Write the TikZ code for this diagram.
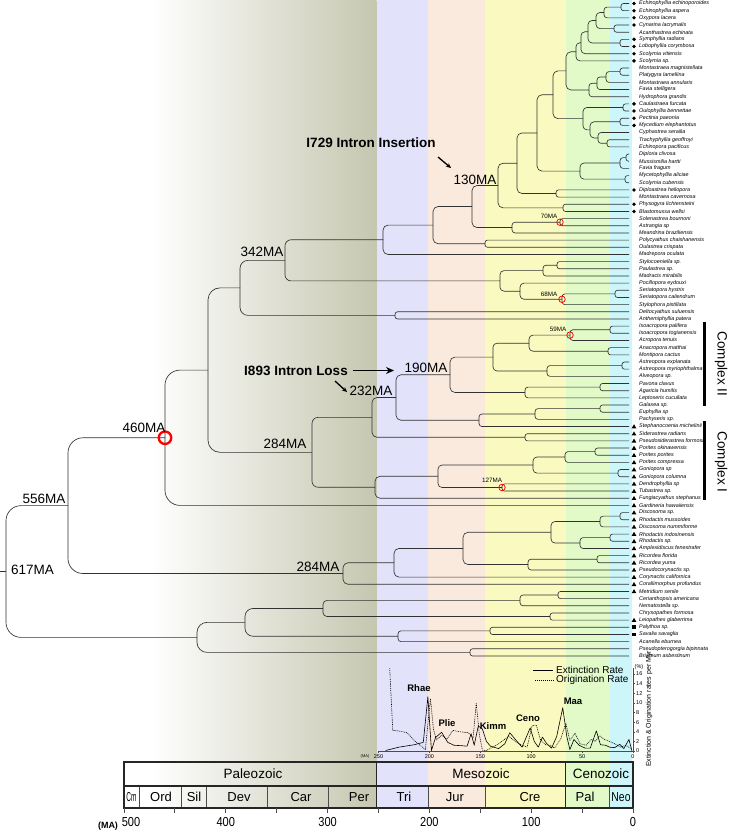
\documentclass[tikz,border=0pt]{standalone}
\usepackage{fontspec}
\setmainfont{Liberation Sans}
\usetikzlibrary{calc,shapes.geometric,arrows.meta}
\definecolor{olivec}{RGB}{198,199,176}
\definecolor{tric}{RGB}{226,226,250}
\definecolor{jurc}{RGB}{250,234,222}
\definecolor{crec}{RGB}{250,250,192}
\definecolor{palc}{RGB}{226,250,200}
\definecolor{neoc}{RGB}{204,246,250}
\definecolor{brc}{RGB}{50,50,50}
\newcommand\mknode[5]{%
  \path let \p1=(#3), \p2=(#4), \p3=(#2,0) in (\x3,{0.5*(\y1+\y2)}) coordinate (#1);%
  \draw[br, rounded corners=#5pt] (#1) |- (#3);%
  \draw[br, rounded corners=#5pt] (#1) |- (#4);%
}
\begin{document}
\begin{tikzpicture}[x=1pt, y=-1pt,
  br/.style={draw=brc, line width=0.65pt},
  taxon/.style={anchor=west, font=\fontsize{5.4}{6}\selectfont\itshape, inner sep=0pt},
  lab/.style={font=\fontsize{13.5}{14}\selectfont, inner sep=0pt},
  slab/.style={font=\fontsize{6.3}{7}\selectfont, inner sep=0pt},
  bl/.style={font=\fontsize{13.5}{14}\selectfont\bfseries, inner sep=0pt},
  mk/.style={circle, draw=red, line width=0.75pt, inner sep=0pt, minimum size=6.5pt},
  symc/.style={circle, fill=black, inner sep=0pt, minimum size=3.8pt},
  symt/.style={regular polygon, regular polygon sides=3, fill=black, inner sep=0pt, minimum size=5.4pt},
  syms/.style={rectangle, fill=black, inner sep=0pt, minimum size=3.6pt},
  era/.style={font=\fontsize{13.5}{14}\selectfont, inner sep=0pt},
  perl/.style={font=\fontsize{13}{14}\selectfont, inner sep=0pt},
  axl/.style={font=\fontsize{13}{14}\selectfont, inner sep=0pt, xscale=0.85},
  cax/.style={font=\fontsize{5.5}{6}\selectfont, inner sep=0pt},
  chl/.style={font=\fontsize{9.5}{10}\selectfont\bfseries, inner sep=0pt},
  legt/.style={font=\fontsize{10}{11}\selectfont, inner sep=0pt, anchor=west},
  boxl/.style={draw=black!85, line width=1.3pt},
  thinl/.style={draw=black!70, line width=0.6pt},
  arr/.style={line width=1.4pt, -{Stealth[length=8pt,width=7pt]}},
  sarr/.style={line width=1.3pt, -{Stealth[length=5pt,width=4.5pt]}}]
\useasboundingbox (0,0) rectangle (733,835);
% ---------- background bands ----------
\fill[white] (0,0) rectangle (733,835);
\shade[left color=white, right color=olivec] (150,0) rectangle (376.6,808);
\fill[tric] (376.6,0) rectangle (428.1,808);
\fill[jurc] (428.1,0) rectangle (485.4,808);
\fill[crec] (485.4,0) rectangle (565.8,808);
\fill[palc] (565.8,0) rectangle (609.6,808);
\fill[neoc] (609.6,0) rectangle (632,808);
% ---------- tips ----------
\foreach \i in {0,...,91} { \coordinate (t\i) at (629,{3.5+7.17*\i}); }
% ---------- robust clade ----------
\mknode{c01}{621}{t0}{t1}{2.5}
\mknode{n2}{604}{c01}{t2}{3}
\mknode{c34}{614}{t3}{t4}{2.5}
\mknode{n593}{596}{n2}{c34}{4}
\mknode{c56}{620}{t5}{t6}{2.5}
\mknode{n585}{588}{n593}{c56}{4}
\mknode{n577}{581}{n585}{t7}{4}
\mknode{nLob}{576}{n577}{t8}{4}
\mknode{c910}{620}{t9}{t10}{2.5}
\mknode{n11}{606}{c910}{t11}{3}
\mknode{n12}{597}{n11}{t12}{3}
\mknode{n13}{589}{n12}{t13}{3}
\mknode{n573}{566}{nLob}{n13}{5}
\mknode{c1415}{623}{t14}{t15}{2.5}
\mknode{c1617}{620}{t16}{t17}{2.5}
\mknode{c1920}{607}{t19}{t20}{2.5}
\mknode{n18}{598}{t18}{c1920}{3}
\mknode{n16}{590}{c1617}{n18}{4}
\mknode{n583}{583}{c1415}{n16}{4}
\mknode{n553}{553}{n573}{n583}{5}
\mknode{c2122}{626}{t21}{t22}{2.5}
\mknode{D3}{620}{c2122}{t23}{3}
\mknode{c2425}{625}{t24}{t25}{2.5}
\mknode{Atl}{580}{D3}{c2425}{4}
\mknode{n537}{537}{n553}{Atl}{5}
\mknode{c2627}{556}{t26}{t27}{2.5}
\mknode{n517}{517}{n537}{c2627}{5}
\mknode{c2829}{563}{t28}{t29}{2.5}
\mknode{n130}{498}{n517}{c2829}{5}
\mknode{c3031}{560}{t30}{t31}{2.5}
\mknode{n512}{512}{c3031}{t32}{3}
\mknode{n472}{472}{n130}{n512}{5}
\mknode{c3334}{485}{t33}{t34}{2.5}
\mknode{n433}{433}{n472}{c3334}{5}
\mknode{R}{383}{n433}{t35}{5}
\mknode{c3637}{557}{t36}{t37}{2.5}
\mknode{n543}{543}{c3637}{t38}{3}
\mknode{c4041}{615}{t40}{t41}{2.5}
\mknode{n68}{562}{c4041}{t42}{3}
\mknode{n520p}{520}{t39}{n68}{4}
\mknode{Poc}{500}{n543}{n520p}{4}
\mknode{Z}{285}{R}{Poc}{6}
\mknode{DA}{395}{t43}{t44}{2.5}
\mknode{W}{240}{Z}{DA}{8}
% ---------- complex clade ----------
\mknode{c4546}{610}{t45}{t46}{2.5}
\mknode{n59}{570}{c4546}{t47}{3}
\mknode{c4849}{608}{t48}{t49}{2.5}
\mknode{M1}{529}{n59}{c4849}{4}
\mknode{c5051}{622}{t50}{t51}{2.5}
\mknode{n547}{547}{c5051}{t52}{3}
\mknode{n493}{493}{M1}{n547}{4}
\mknode{c5354}{600}{t53}{t54}{2.5}
\mknode{Ag}{525}{c5354}{t55}{3}
\mknode{U}{450}{n493}{Ag}{5}
\mknode{c5657}{600}{t56}{t57}{2.5}
\mknode{L1}{535}{c5657}{t58}{3}
\mknode{L}{479}{L1}{t59}{3}
\mknode{C190}{396}{U}{L}{5}
\mknode{c6061}{525}{t60}{t61}{2.5}
\mknode{C232}{372}{C190}{c6061}{5}
\mknode{c6263}{595}{t62}{t63}{2.5}
\mknode{A}{565}{c6263}{t64}{3}
\mknode{G}{618}{t65}{t66}{2.5}
\mknode{P2}{533}{A}{G}{4}
\mknode{N127}{502}{t67}{t68}{2.5}
\mknode{P1}{438}{P2}{N127}{4}
\mknode{CI}{375}{P1}{t69}{5}
\mknode{H284}{312}{C232}{CI}{6}
\mknode{N208}{208}{W}{H284}{12}
\mknode{N460}{165}{N208}{t70}{15}
% ---------- corallimorpharians ----------
\mknode{c7172}{620}{t71}{t72}{2.5}
\mknode{na}{600}{c7172}{t73}{3}
\mknode{c7475}{610}{t74}{t75}{2.5}
\mknode{nb}{580}{c7475}{t76}{3}
\mknode{n551}{551}{na}{nb}{4}
\mknode{c7778}{597}{t77}{t78}{2.5}
\mknode{n528}{528}{c7778}{t79}{3}
\mknode{n463}{463}{n551}{n528}{5}
\mknode{n394}{394}{n463}{t80}{5}
\mknode{L284}{343}{n394}{t81}{5}
\mknode{N556}{68}{N460}{L284}{15}
% ---------- basal groups ----------
\mknode{c8283}{558}{t82}{t83}{2.5}
\mknode{n520b}{520}{c8283}{t84}{3}
\mknode{c8586}{550}{t85}{t86}{2.5}
\mknode{n323}{323}{n520b}{c8586}{4}
\mknode{c8788}{490}{t87}{t88}{2.5}
\mknode{n398}{398}{c8788}{t89}{3}
\mknode{n245}{245}{n323}{n398}{8}
\mknode{c9091}{470}{t90}{t91}{2.5}
\mknode{B}{197}{n245}{c9091}{10}
\mknode{root}{6}{N556}{B}{15}
\path (root) ++(-6,0) coordinate (rootstem);
\draw[br] (rootstem) -- (root);
% ---------- markers ----------
\node[mk] (m70) at (c3031) {};
\node[mk] (m68) at (n68) {};
\node[mk] (m59) at (n59) {};
\node[mk] (m127) at (N127) {};
\node[circle, draw=red, line width=2.3pt, minimum size=12.5pt, inner sep=0pt] (m460) at (N460) {};
% ---------- node age labels ----------
\node[lab] (l617) at (32.5,570) {617MA};
\node[lab] (l556) at (44,498.5) {556MA};
\node[lab] (l460) at (144,428) {460MA};
\node[lab] (l342) at (262,252) {342MA};
\node[lab] (l284a) at (285,444) {284MA};
\node[lab] (l232) at (371,391) {232MA};
\node[lab] (l190) at (426,368) {190MA};
\node[lab] (l130) at (475,180) {130MA};
\node[lab] (l284b) at (318,567) {284MA};
\node[slab] (l70) at (549,216) {70MA};
\node[slab] (l68) at (549,294) {68MA};
\node[slab] (l59) at (558,329) {59MA};
\node[slab] (l127) at (492,480) {127MA};
% ---------- intron annotations ----------
\node[bl] (i729) at (371,143) {I729 Intron Insertion};
\coordinate (a729s) at (438,157);
\coordinate (a729e) at (451,168);
\draw[sarr] (a729s) -- (a729e);
\node[bl] (i893) at (296,370.5) {I893 Intron Loss};
\coordinate (a893s) at (353,370.5);
\coordinate (a893e) at (394,370.5);
\draw[arr] (a893s) -- (a893e);
\coordinate (a232s) at (335,381);
\coordinate (a232e) at (347,392);
\draw[sarr] (a232s) -- (a232e);
% ---------- taxa ----------
\foreach \i/\nm in {0/Echinophyllia echinoporoides,1/Echinophyllia aspera,2/Oxypora lacera,3/Cynarina lacrymalis,4/Acanthastrea echinata,5/Symphyllia radians,6/Lobophyllia corymbosa,7/Scolymia vitiensis,8/Scolymia sp.,9/Montastraea magnistellata,10/Platygyra lamellina,11/Montastraea annularis,12/Favia stelligera,13/Hydrophora grandis,14/Caulastraea furcata,15/Oulophyllia bennettae,16/Pectinia paeonia,17/Mycedium elephantotus,18/Cyphastrea serailia,19/Trachyphyllia geoffroyi,20/Echinopora pacificus,21/Diploria clivosa,22/Mussismilia hartti,23/Favia fragum,24/Mycetophyllia aliciae,25/Scolymia cubensis,26/Diploastrea heliopora,27/Montastraea cavernosa,28/Physogyra lichtensteini,29/Blastomussa wellsi,30/Solenastrea bournoni,31/Astrangia sp,32/Meandrina braziliensis,33/Polycyathus chaishanensis,34/Oulastrea crispata,35/Madrepora oculata,36/Stylocoeniella sp.,37/Paulastrea sp.,38/Madracis mirabilis,39/Pocillopora eydouxi,40/Seriatopora hystrix,41/Seriatopora caliendrum,42/Stylophora pistillata,43/Deltocyathus suluensis,44/Anthemiphyllia patera,45/Isoacropora palifera,46/Isoacropora togianensis,47/Acropora tenuis,48/Anacropora matthai,49/Montipora cactus,50/Astreopora explanata,51/Astreopora myriophthalma,52/Alveopora sp.,53/Pavona clavus,54/Agaricia humilis,55/Leptoseris cucullata,56/Galaxea sp.,57/Euphyllia sp,58/Pachyseris sp.,59/Stephanocoenia michelinii,60/Siderastrea radians,61/Pseudosiderastrea formosa,62/Porites okinawensis,63/Porites porites,64/Porites compressa,65/Goniopora sp,66/Goniopora columna,67/Dendrophyllia sp,68/Tubastrea sp.,69/Fungiacyathus stephanus,70/Gardineria hawaiiensis,71/Discosoma sp.,72/Rhodactis mussoides,73/Discosoma nummiforme,74/Rhodactis indosinensis,75/Rhodactis sp.,76/Amplexidiscus fenestrafer,77/Ricordea florida,78/Ricordea yuma,79/Pseudocorynactis sp.,80/Corynactis californica,81/Corallimorphus profundus,82/Metridium senile,83/Cerianthopsis americana,84/Nematostella sp.,85/Chrysopathes formosa,86/Leiopathes glaberrima,87/Palythoa sp.,88/Savalia savaglia,89/Acanella eburnea,90/Pseudopterogorgia bipinnata,91/Briareum asbestinum}
  { \node[taxon] (tx\i) at (639,{3.5+7.17*\i}) {\nm}; }
\foreach \i in {0,1,2,3,5,6,7,8,14,15,16,17,26,28,29}
  { \node[symc] (sy\i) at (634,{3.5+7.17*\i}) {}; }
\foreach \i in {59,...,82,86}
  { \node[symt] (sy\i) at (634,{3.5+7.17*\i+0.4}) {}; }
\foreach \i in {87,88}
  { \node[syms] (sy\i) at (634,{3.5+7.17*\i}) {}; }
% ---------- complex bars ----------
\coordinate (b2t) at (704,322); \coordinate (b2b) at (704,406);
\coordinate (b1t) at (704,421); \coordinate (b1b) at (704,500);
\draw[line width=3pt] (b2t) -- (b2b);
\draw[line width=3pt] (b1t) -- (b1b);
\node[lab, rotate=-90] (cx2) at (721,364) {Complex II};
\node[lab, rotate=-90] (cx1) at (721,462) {Complex I};
% ---------- rate chart ----------
\draw[thinl, line width=0.5pt] (378.5,751) -- (633,751);
\draw[thinl, line width=0.5pt] (633,668) -- (633,751);
\foreach \t in {250,200,...,0} {
  \draw[thinl, line width=0.5pt] ({633-1.018*\t},751) -- ++(0,1.8);
  \node[cax] (cx\t) at ({633-1.018*\t},757) {\t};
}
\node[font=\fontsize{4}{5}\selectfont, inner sep=0pt] (cma) at (365,756.5) {(MA)};
\foreach \p in {0,2,...,16} {
  \draw[thinl, line width=0.5pt] (633,{751-4.81*\p}) -- ++(2,0);
  \node[cax, anchor=west] (cy\p) at (636,{751-4.81*\p}) {\p};
}
\node[cax] (cpct) at (639,667) {(\%)};
\node[font=\fontsize{7}{8}\selectfont, inner sep=0pt, rotate=90] (cyl) at (649,709) {Extinction \& Origination rates per Myr};
\begin{scope}[shift={(633,751)}, x=-1.018pt, y=4.81pt]
\draw[line width=0.6pt, line join=round] plot coordinates {(243,0.1) (230,0.8) (215,1.3) (206,1.8) (201.5,11.3) (198,0.1) (194,2.8) (188,3.9) (182,1.8) (176,1.2) (168,1.1) (163,1.0) (159,3.6) (156,1.2) (152,5.2) (148,4.6) (144,2.0) (140,1.0) (132,0.5) (126,1.5) (121,3.8) (116,2.5) (109,0.8) (101,4.8) (97,2.0) (93,0.8) (89,2.9) (85,1.6) (80,0.6) (75,3.0) (69,9.0) (65,3.0) (62,0.3) (58,2.4) (53,1.2) (47,0.6) (42,0.6) (36,4.2) (32,1.3) (27,1.2) (23,0.8) (18,0.7) (13,1.4) (9,0.5) (4,2.4) (1,0)};
\draw[line width=0.6pt, dash pattern=on 0.9pt off 0.9pt, line join=round] plot coordinates {(239,17.2) (236,4.3) (228,4.1) (222,3.8) (214,2.0) (208,1.0) (204,0.3) (199,10.9) (196,4.5) (193,2.3) (188,3.3) (183,2.4) (177,4.3) (170,4.0) (162,3.8) (157,2.8) (154,10.0) (151,3.5) (148,0.2) (144,0.1) (139,0.7) (132,1.5) (125,2.6) (122,3.1) (116,2.0) (110,1.3) (104,0.8) (99,5.3) (95,5.4) (91,2.4) (86,1.3) (81,1.2) (77,0.6) (71,2.5) (66,5.8) (62,2.2) (57,3.7) (52,1.5) (46,1.2) (41,2.4) (37,2.0) (33,3.2) (28,2.4) (23,2.0) (18,1.5) (12,0.8) (7,1.2) (2,0.5)};
\end{scope}
\node[chl] (kRhae) at (419,688) {Rhae};
\node[chl] (kPlie) at (447,723) {Plie};
\node[chl] (kKimm) at (493,726) {Kimm};
\node[chl] (kCeno) at (528,718) {Ceno};
\node[chl] (kMaa) at (573,701) {Maa};
\coordinate (lgE1) at (533,670); \coordinate (lgE2) at (553,670);
\draw[line width=0.8pt] (lgE1) -- (lgE2);
\node[legt] (lgEt) at (556,670) {Extinction Rate};
\coordinate (lgO1) at (535,680); \coordinate (lgO2) at (555,680);
\draw[line width=0.8pt, dash pattern=on 1pt off 1pt] (lgO1) -- (lgO2);
\node[legt] (lgOt) at (556,680) {Origination Rate};
% ---------- geological time scale ----------
\foreach \x in {138.9,181.2,206.3,267.6,328.7,428.1,485.4,609.6}
  { \draw[thinl] (\x,786) -- (\x,808); }
\draw[boxl] (376.6,762) -- (376.6,808);
\draw[boxl] (565.8,762) -- (565.8,808);
\draw[boxl] (124,786) -- (633,786);
\draw[boxl] (124,762) rectangle (633,808);
\node[era] (ePal) at (253,774) {Paleozoic};
\node[era] (eMes) at (481,774) {Mesozoic};
\node[era] (eCen) at (601,774) {Cenozoic};
\node[perl, xscale=0.5] (pCm) at (131.5,797) {Cm};
\node[perl] (pOrd) at (161,797) {Ord};
\node[perl] (pSil) at (194,797) {Sil};
\node[perl] (pDev) at (239,797) {Dev};
\node[perl] (pCar) at (301,797) {Car};
\node[perl] (pPer) at (359,797) {Per};
\node[perl] (pTri) at (404,797) {Tri};
\node[perl] (pJur) at (455,797) {Jur};
\node[perl] (pCre) at (530,797) {Cre};
\node[perl] (pPal) at (585,797) {Pal};
\node[perl, xscale=0.8] (pNeo) at (621,797) {Neo};
\foreach \t in {500,450,...,0}
  { \draw[thinl, line width=0.8pt] ({633-1.018*\t},808) -- ++(0,5); }
\foreach \t in {400,300,200,100,0}
  { \node[axl] (ax\t) at ({633-1.018*\t},822) {\t}; }
\node[axl] (ax500) at (131,822) {500};
\node[font=\fontsize{9}{10}\selectfont\bfseries, inner sep=0pt] (maunit) at (108,826.5) {(MA)};
\end{tikzpicture}
\end{document}
